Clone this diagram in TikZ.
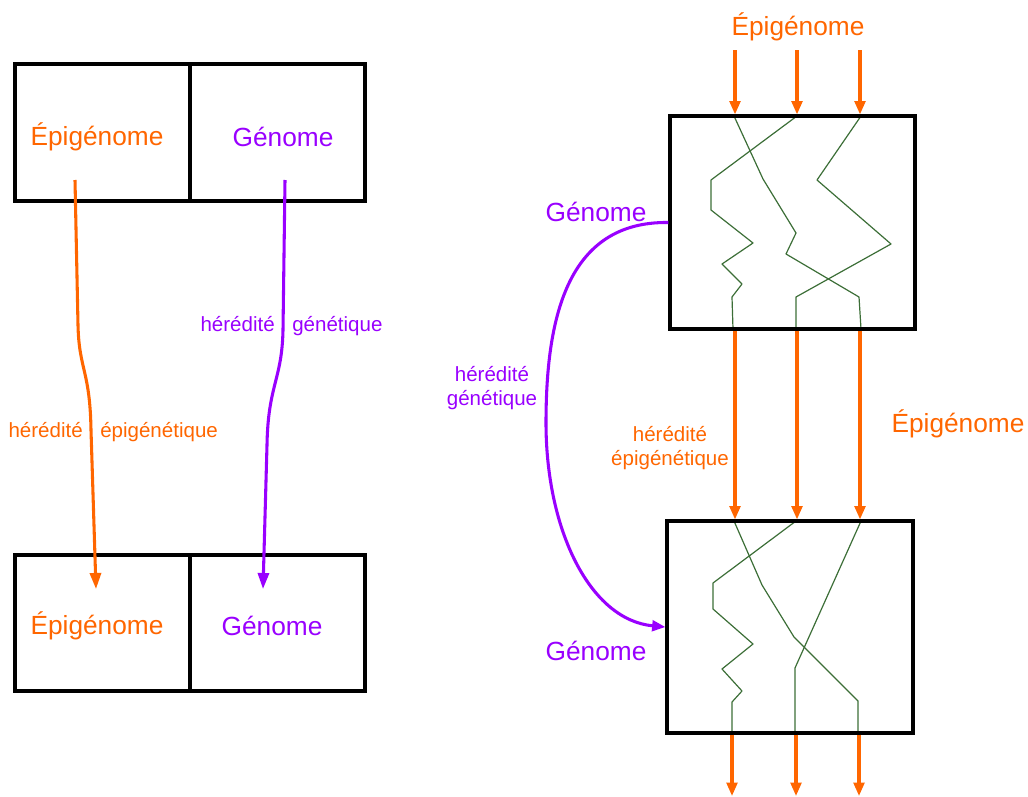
\documentclass[tikz,border=0pt]{standalone}
\usepackage{fontspec}
\setmainfont{Liberation Sans}
\usetikzlibrary{arrows.meta,positioning}
\definecolor{epiorange}{HTML}{FF6600}
\definecolor{genpurple}{HTML}{9900FF}
\definecolor{strandgreen}{RGB}{60,110,55}

\begin{document}
\begin{tikzpicture}[x=0.75pt, y=-0.75pt,
        cell/.style={draw, rectangle, line width=2.3pt, inner sep=0pt, minimum width=131.25pt, minimum height=102.75pt},
        bigtext/.style={font=\fontsize{19.7}{23}\selectfont, inner sep=0pt},
        smalltext/.style={font=\fontsize{15.4}{18}\selectfont, inner sep=0pt, align=center},
        epiarrow/.style={draw=epiorange, line width=2.3pt, -{Triangle[length=10pt, width=8pt]}},
        longtip/.style={-{Triangle[length=12pt, width=8.3pt]}},
        genarrow/.style={draw=genpurple, line width=2.3pt, -{Triangle[length=10pt, width=8pt]}},
        strand/.style={draw=strandgreen, line width=0.9pt, line join=round}]
        \useasboundingbox (0,0) rectangle (1028,796);

        % left: parents and offspring
        \node (parentepi) [cell] at (102.5,132.5) {};
        \node (parentgen) [cell] at (277.5,132.5) {};
        \node (childepi) [cell, minimum height=102pt] at (102.5,623) {};
        \node (childgen) [cell, minimum height=102pt] at (277.5,623) {};
        \node (parentepitext) [bigtext, text=epiorange] at (97,137) {Épigénome};
        \node (parentgentext) [bigtext, text=genpurple] at (283,137) {Génome};
        \node (childepitext) [bigtext, text=epiorange] at (97,626) {Épigénome};
        \node (childgentext) [bigtext, text=genpurple] at (272,626) {Génome};

        \coordinate (epistart) at (75,180);
        \coordinate (epiend) at (96,589);
        \coordinate (genstart) at (285,180);
        \coordinate (genend) at (263,589);
        \draw[epiarrow, longtip] (epistart) -- (78,325) .. controls (79,370) and (90,370) .. (91,430) -- (epiend);
        \draw[genarrow, longtip] (genstart) -- (283,330) .. controls (282,380) and (268,385) .. (267,445) -- (genend);

        \node (epiherA) [smalltext, text=epiorange, anchor=base east] at (83,437) {hérédité};
        \node (epiherB) [smalltext, text=epiorange, anchor=base west] at (100,437) {épigénétique};
        \node (genherA) [smalltext, text=genpurple, anchor=base east] at (275,331) {hérédité};
        \node (genherB) [smalltext, text=genpurple, anchor=base west] at (292,331) {génétique};

        % right: the strands through two generations
        \draw[strand] (734,116) -- (763,179) -- (796,233) -- (786,254) -- (859,297) -- (861,329);
        \draw[strand] (797,116) -- (711,180) -- (711,210) -- (753,243) -- (722,264) -- (742,284) -- (732,297) -- (733,329);
        \draw[strand] (861,116) -- (817,180) -- (891,244) -- (796,297) -- (796,329);
        \draw[strand] (734,521) -- (762,585) -- (794,637) -- (858,701) -- (858,733);
        \draw[strand] (796,521) -- (713,583) -- (713,609) -- (753,644) -- (722,669) -- (742,691) -- (732,702) -- (732,733);
        \draw[strand] (861,521) -- (795,668) -- (795,733);

        \node (genone) [draw, rectangle, line width=2.3pt, inner sep=0pt, minimum width=183.75pt, minimum height=159.75pt] at (792.5,222.5) {};
        \node (gentwo) [draw, rectangle, line width=2.3pt, inner sep=0pt, minimum width=184.5pt, minimum height=159pt] at (790,627) {};

        \foreach \n/\x/\y in {a/735/732, b/797/796, c/860/859} {
            \coordinate (in\n) at (\x,50);
            \coordinate (mid\n) at (\x,0);
            \coordinate (out\n) at (\y,796);
            \draw[epiarrow] (in\n) -- (in\n |- genone.north);
            \draw[epiarrow] (mid\n |- genone.south) -- (mid\n |- gentwo.north);
            \draw[epiarrow] (out\n |- gentwo.south) -- (out\n);
        }

        \node (epitop) [bigtext, text=epiorange] at (798,27) {Épigénome};
        \node (episide) [bigtext, text=epiorange] at (958,424) {Épigénome};
        \node (genonetext) [bigtext, text=genpurple] at (596,212) {Génome};
        \node (gentwotext) [bigtext, text=genpurple] at (596,651) {Génome};
        \node (epiher) [smalltext, text=epiorange] at (670,448) {hérédité\\épigénétique};
        \node (genher) [smalltext, text=genpurple] at (492,388) {hérédité\\génétique};

        \draw[genarrow] (genone.west) .. controls (566,221) and (546,320) .. (546,423)
            .. controls (546,530) and (590,620) .. (gentwo.west);
    \end{tikzpicture}
\end{document}
